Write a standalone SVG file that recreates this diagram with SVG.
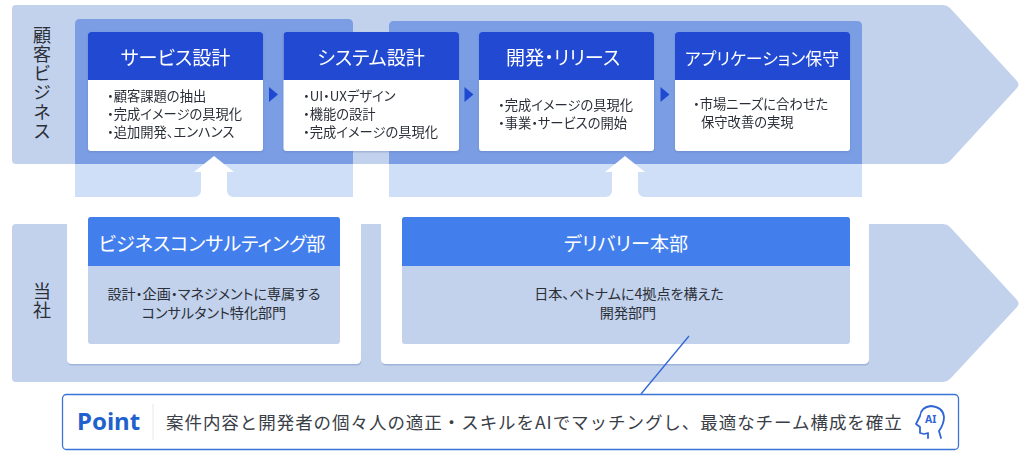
<svg xmlns="http://www.w3.org/2000/svg" width="1024" height="455" viewBox="0 0 1024 455">
<style>
text{font-family:"Noto Sans CJK JP","Noto Sans",sans-serif;fill:#2b2f38;font-feature-settings:"palt"}
.band{fill:#c2d2ec}
.ovd{fill:#7a9de3}
.ovl{fill:#cfdff8}
.hd{fill:#2049d2}
.hd2{fill:#437fec}
.t{fill:#fff;font-size:19.100px;text-anchor:middle}
.b{font-size:13.300px}
.c{font-size:14.100px;text-anchor:middle}
.side{font-size:18px}
.tri{fill:#2049d2}
</style>
<defs>
<filter id="sh" x="-5%" y="-5%" width="110%" height="110%"><feDropShadow dx="0" dy="1" stdDeviation="1" flood-color="#5a77b0" flood-opacity=".45"/></filter>
</defs>
<rect width="1024" height="455" fill="#fff"/>
<g id="band-customer"><path class="band" d="M16 5H943Q947 5 950 8L1017 81Q1020 84.500 1017 88L950 161Q947 164 943 164H16Q12 164 12 160V9Q12 5 16 5Z"/>
<text class="side" x="42" y="26" style="writing-mode:vertical-rl;letter-spacing:1.200px;font-feature-settings:normal">顧客ビジネス</text></g>
<g id="band-company"><path class="band" d="M16 224H943Q947 224 950 227L1017 300Q1020 303.500 1017 307L950 379Q947 382 943 382H16Q12 382 12 378V228Q12 224 16 224Z"/>
<text class="side" x="42" y="282" style="writing-mode:vertical-rl;letter-spacing:1.200px;font-feature-settings:normal">当社</text></g>
<g id="overlay-1">
<path class="ovl" d="M75 164H353V197H75Z"/>
<path class="ovd" d="M75 24Q75 19 80 19H348Q353 19 353 24V164H75Z"/>
</g>
<g id="overlay-2">
<path class="ovl" d="M389 164H862V197H389Z"/>
<path class="ovd" d="M389 26Q389 21 394 21H857Q862 21 862 26V164H389Z"/>
</g>
<g id="connectors">
<path id="up-1" fill="#fff" d="M214 156L234 172H227V190Q227 197 234 197H194Q201 197 201 190V172H194Z"/>
<path id="up-2" fill="#fff" d="M625 156L645 172H638V190Q638 197 645 197H605Q612 197 612 190V172H605Z"/>
<path class="tri" d="M269 87L278 94.500L269 102Z"/>
<path class="tri" d="M464.500 87L473.500 94.500L464.500 102Z"/>
<path class="tri" d="M660.500 87L669.500 94.500L660.500 102Z"/>
</g>
<g id="card-service" filter="url(#sh)"><rect x="88" y="32" width="175" height="119" rx="3" fill="#fff"/><path class="hd" d="M88 35Q88 32 91 32H260Q263 32 263 35V80H88Z"/>
<text class="t" x="175.500" y="65">サービス設計</text>
<text class="b" x="107" y="101">・顧客課題の抽出</text><text class="b" x="107" y="119">・完成イメージの具現化</text><text class="b" x="107" y="137">・追加開発、エンハンス</text></g>
<g id="card-system" filter="url(#sh)"><rect x="283.500" y="32" width="175.500" height="119" rx="3" fill="#fff"/><path class="hd" d="M283.500 35Q283.500 32 286.500 32H456Q459 32 459 35V80H283.500Z"/>
<text class="t" x="371" y="65">システム設計</text>
<text class="b" x="303" y="101">・UI・UXデザイン</text><text class="b" x="303" y="119">・機能の設計</text><text class="b" x="303" y="137">・完成イメージの具現化</text></g>
<g id="card-dev" filter="url(#sh)"><rect x="479" y="32" width="175" height="119" rx="3" fill="#fff"/><path class="hd" d="M479 35Q479 32 482 32H651Q654 32 654 35V80H479Z"/>
<text class="t" x="563" y="65">開発・リリース</text>
<text class="b" x="498" y="110">・完成イメージの具現化</text><text class="b" x="498" y="128">・事業・サービスの開始</text></g>
<g id="card-maint" filter="url(#sh)"><rect x="675" y="32" width="175" height="119" rx="3" fill="#fff"/><path class="hd" d="M675 35Q675 32 678 32H847Q850 32 850 35V80H675Z"/>
<text class="t" x="762" y="64.500" style="font-size:16.900px">アプリケーション保守</text>
<text class="b" x="693" y="109">・市場ニーズに合わせた</text><text class="b" x="701" y="127">保守改善の実現</text></g>
<g id="panel-consulting"><rect x="68" y="358" width="293" height="7.500" rx="4" fill="#9fb4d8"/><path d="M67 205H361V359Q361 364 356 364H72Q67 364 67 359Z" fill="#fff"/>
<rect x="88" y="217" width="252" height="127" rx="3" fill="#c2d2ec"/><path class="hd2" d="M88 220Q88 217 91 217H337Q340 217 340 220V266H88Z"/>
<text class="t" x="212" y="250.500">ビジネスコンサルティング部</text>
<text class="c" x="214" y="299">設計・企画・マネジメントに専属する</text><text class="c" x="214" y="318">コンサルタント特化部門</text></g>
<g id="panel-delivery"><rect x="382" y="358" width="487" height="7.500" rx="4" fill="#9fb4d8"/><path d="M381 205H869V359Q869 364 864 364H386Q381 364 381 359Z" fill="#fff"/>
<rect x="402" y="217" width="448" height="127" rx="3" fill="#c2d2ec"/><path class="hd2" d="M402 220Q402 217 405 217H847Q850 217 850 220V266H402Z"/>
<text class="t" x="626" y="250.500">デリバリー本部</text>
<text class="c" x="629" y="299">日本、ベトナムに4拠点を構えた</text><text class="c" x="628" y="318">開発部門</text></g>
<g id="point">
<path d="M689 336L641 394" fill="none" stroke="#2f65d6" stroke-width="1.300"/>
<rect x="62.500" y="394.500" width="896" height="55" rx="4" fill="#fff" stroke="#3b74d8" stroke-width="1.300"/>
<path d="M153 404V440" stroke="#e6e8ec" stroke-width="1"/>
<text x="77" y="430" style="font-family:'Noto Sans',sans-serif;font-size:24px;font-weight:700;fill:#1f62cf">Point</text>
<text x="166" y="429" style="font-size:17.500px;letter-spacing:.950px;font-feature-settings:normal;fill:#3a3e47">案件内容と開発者の個々人の適正・スキルをAIでマッチングし、最適なチーム構成を確立</text>
<g id="ai-icon" fill="none" stroke="#2f65d6" stroke-width="1.800" stroke-linecap="round" stroke-linejoin="round">
<path d="M941 438L939 431Q944 424 944 417Q943 407 931 406Q921 407 920 416L916 424L920 427V433L924 434L928 433V438"/>
</g>
<text x="925" y="423" style="font-family:'Noto Sans',sans-serif;font-size:10.500px;font-weight:700;fill:#2f65d6">AI</text>
</g>
</svg>
